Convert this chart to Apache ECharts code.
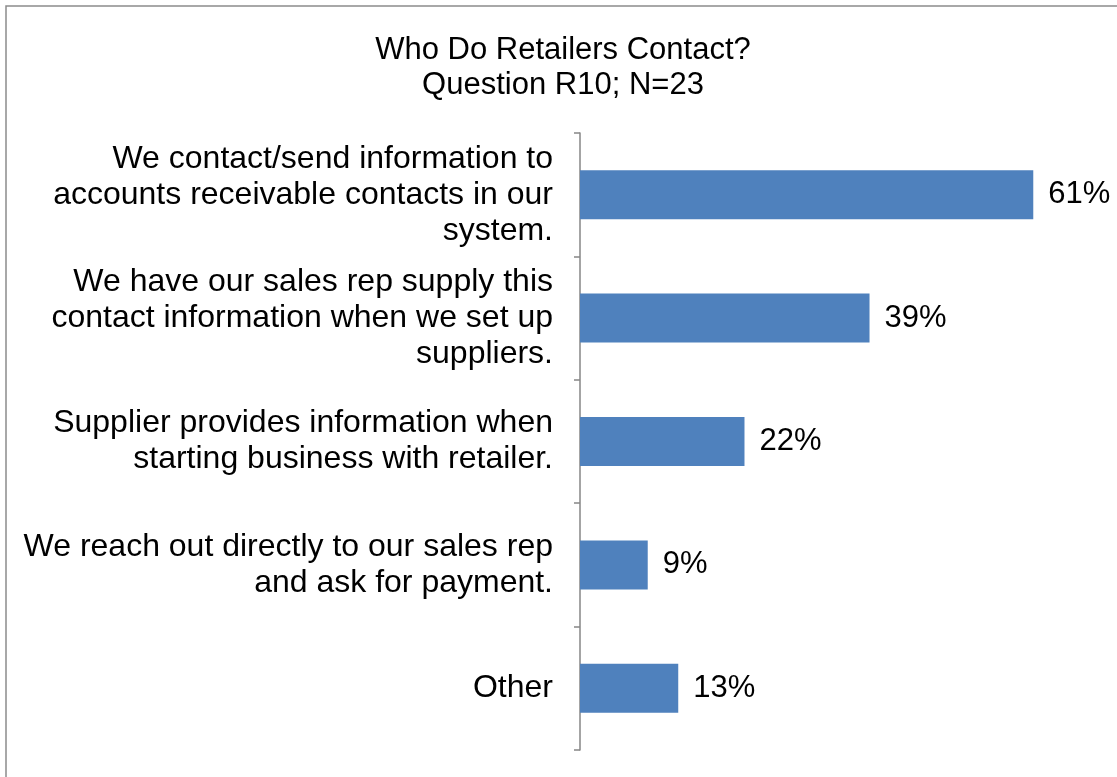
<!DOCTYPE html>
<html>
<head>
<meta charset="utf-8">
<title>Who Do Retailers Contact?</title>
<script src="https://cdn.jsdelivr.net/npm/echarts@6/dist/echarts.min.js"></script>
<style>
  html, body { margin: 0; padding: 0; background: #fff; }
  #chart { width: 1117px; height: 777px; }
</style>
</head>
<body>
<div id="chart"></div>
<script>
// categories, top to bottom (line breaks as in the original)
const categories = [
  'We contact/send information to\naccounts receivable contacts in our\nsystem.',
  'We have our sales rep supply this\ncontact information when we set up\nsuppliers.',
  'Supplier provides information when\nstarting business with retailer.',
  'We reach out directly to our sales rep\nand ask for payment.',
  'Other'
]
// share of respondents (N=23)
const shares = [0.609, 0.389, 0.221, 0.091, 0.132]

const FONT = '"Liberation Sans", Arial, sans-serif'

const chart = echarts.init(document.getElementById('chart'))
chart.setOption({
  backgroundColor: '#fff',
  animation: false,
  title: {
    text: 'Who Do Retailers Contact?\nQuestion R10; N=23',
    left: 558,
    top: 28,
    textAlign: 'center',
    textStyle: {
      fontFamily: FONT,
      fontSize: 31,
      fontWeight: 'normal',
      lineHeight: 35,
      color: '#000'
    }
  },
  graphic: [{
    type: 'rect',
    shape: { x: 6, y: 6, width: 1300, height: 1000 },
    style: { fill: 'none', stroke: '#8c8c8c', lineWidth: 1.5 },
    silent: true
  }],
  grid: {
    left: 580,
    right: 16,
    top: 133,
    bottom: 27,
    containLabel: false
  },
  xAxis: {
    type: 'value',
    min: 0,
    max: 0.7,
    show: false
  },
  yAxis: {
    type: 'category',
    data: categories,
    inverse: true,
    axisLine: { lineStyle: { color: '#868686', width: 1.5 } },
    axisTick: { show: true, length: 6, lineStyle: { color: '#868686', width: 1.5 } },
    axisLabel: {
      fontFamily: FONT,
      fontSize: 32,
      lineHeight: 36,
      color: '#000',
      margin: 27,
      align: 'right'
    },
    splitLine: { show: false }
  },
  series: [{
    type: 'bar',
    data: shares,
    barWidth: 49,
    itemStyle: { color: '#4f81bd' },
    label: {
      show: true,
      position: 'right',
      distance: 15,
      fontFamily: FONT,
      fontSize: 31,
      color: '#000',
      formatter: p => Math.round(p.value * 100) + '%'
    }
  }]
})
</script>
</body>
</html>
